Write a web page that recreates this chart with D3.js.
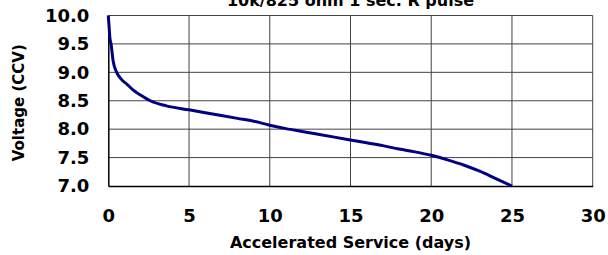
<!DOCTYPE html>
<html>
<head>
<meta charset="utf-8">
<script src="https://cdn.jsdelivr.net/npm/d3@7"></script>
<style>
  body { margin: 0; background: #fff; }
  svg text { font-family: "DejaVu Sans", Verdana, sans-serif; font-weight: bold; fill: #000; }
</style>
</head>
<body>
<div id="chart"></div>
<script>
// days of accelerated service vs closed-circuit voltage
var days = [0, 0.05, 0.1, 0.17, 0.3, 0.52, 0.8, 1.2, 1.53, 2, 2.6, 3.6, 5, 6, 7, 8, 9, 10, 11, 12, 13, 14, 15, 16, 17, 18, 19, 20, 21, 22, 23, 24, 25];
var volts = [10.0, 9.8, 9.6, 9.5, 9.2, 9.0, 8.88, 8.78, 8.69, 8.6, 8.5, 8.41, 8.34, 8.29, 8.24, 8.19, 8.14, 8.07, 8.01, 7.96, 7.91, 7.86, 7.81, 7.76, 7.71, 7.65, 7.6, 7.54, 7.46, 7.37, 7.26, 7.13, 7.0];
var xTicks = [0, 5, 10, 15, 20, 25, 30];
var yTicks = [7.0, 7.5, 8.0, 8.5, 9.0, 9.5, 10.0];

var W = 608, H = 255;
var margin = {top: 15.5, right: 15.3, bottom: 69, left: 108.3},
    width = W - margin.left - margin.right,
    height = H - margin.top - margin.bottom;

var svg = d3.select("#chart").append("svg")
    .attr("width", W)
    .attr("height", H);

var g = svg.append("g")
    .attr("transform", "translate(" + margin.left + "," + margin.top + ")");

var x = d3.scaleLinear().domain([0, 30]).range([0, width]);
var y = d3.scaleLinear().domain([7, 10]).range([height, 0]);

// grid
g.selectAll(".vgrid")
    .data(xTicks.slice(1))
    .enter().append("line")
    .attr("class", "vgrid")
    .attr("x1", function(d) { return x(d); })
    .attr("x2", function(d) { return x(d); })
    .attr("y1", 0)
    .attr("y2", height)
    .attr("stroke", "#444")
    .attr("stroke-width", 1);

g.selectAll(".hgrid")
    .data(yTicks.slice(1))
    .enter().append("line")
    .attr("class", "hgrid")
    .attr("x1", 0)
    .attr("x2", width)
    .attr("y1", function(d) { return y(d); })
    .attr("y2", function(d) { return y(d); })
    .attr("stroke", "#444")
    .attr("stroke-width", 1);

// axes
var xAxis = g.append("g")
    .attr("transform", "translate(0," + height + ")")
    .call(d3.axisBottom(x).tickValues(xTicks).tickSize(0).tickPadding(23).tickFormat(d3.format("d")));
xAxis.select(".domain").attr("stroke", "#000").attr("stroke-width", 1.5);
xAxis.selectAll("text").style("font-size", "18px");

var yAxis = g.append("g")
    .call(d3.axisLeft(y).tickValues(yTicks).tickSize(0).tickPadding(19).tickFormat(d3.format(".1f")));
yAxis.select(".domain").attr("stroke", "#000").attr("stroke-width", 1.5);
yAxis.selectAll("text").style("font-size", "18px");

// curve
var pts = days.map(function(d, i) { return [d, volts[i]]; });
g.append("path")
    .datum(pts)
    .attr("fill", "none")
    .attr("stroke", "#000080")
    .attr("stroke-width", 3)
    .attr("d", d3.line()
        .x(function(d) { return x(d[0]); })
        .y(function(d) { return y(d[1]); })
        .curve(d3.curveMonotoneX));

// titles
svg.append("text")
    .attr("x", margin.left + width / 2)
    .attr("y", 6)
    .attr("text-anchor", "middle")
    .style("font-size", "16px")
    .text("10k/825 ohm 1 sec. R pulse");

svg.append("text")
    .attr("x", margin.left + width / 2)
    .attr("y", 248)
    .attr("text-anchor", "middle")
    .style("font-size", "16px")
    .text("Accelerated Service (days)");

svg.append("text")
    .attr("transform", "translate(24," + (margin.top + height / 2 + 2) + ") rotate(-90)")
    .attr("text-anchor", "middle")
    .style("font-size", "15px")
    .text("Voltage (CCV)");
</script>
</body>
</html>
